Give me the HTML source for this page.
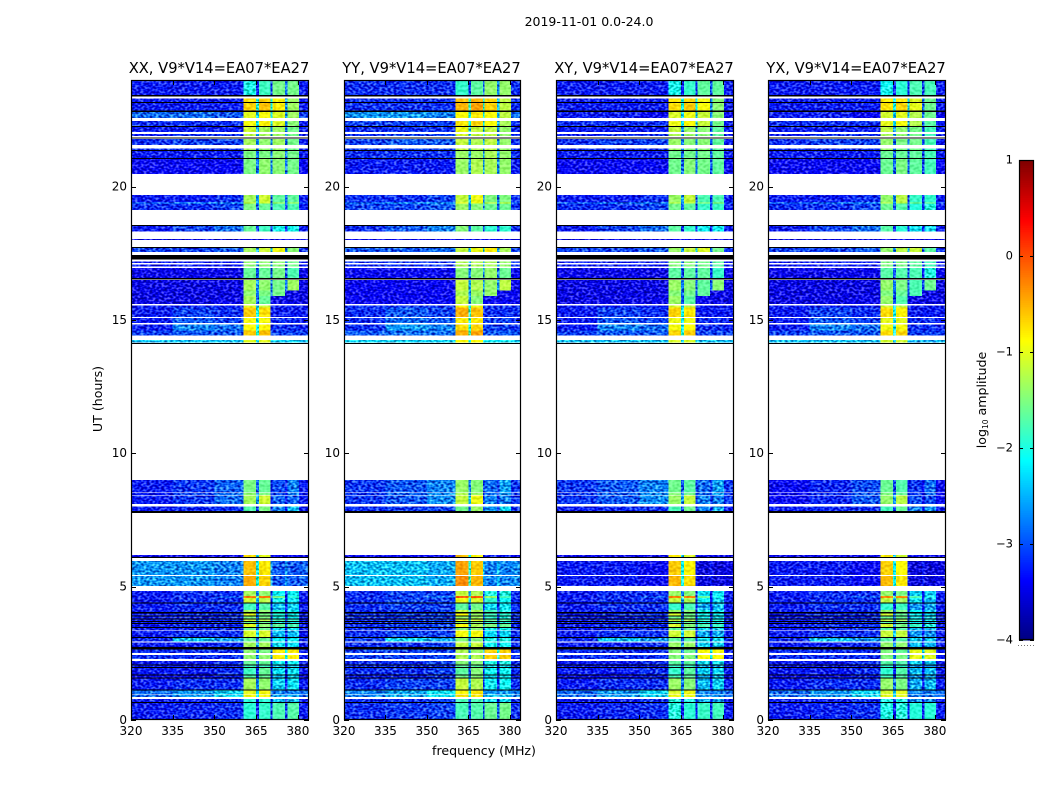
<!DOCTYPE html>
<html>
<head>
<meta charset="utf-8">
<title>2019-11-01 0.0-24.0</title>
<style>
html,body{margin:0;padding:0;background:#fff;width:1050px;height:800px;overflow:hidden}
svg{display:block}
text{font-family:"DejaVu Sans","Liberation Sans",sans-serif;fill:#000}
</style>
</head>
<body>
<svg id="chart" width="1050" height="800" viewBox="0 0 1050 800" xmlns="http://www.w3.org/2000/svg">
<defs>
<filter id="speckle" filterUnits="userSpaceOnUse" x="0" y="0" width="1050" height="800" color-interpolation-filters="sRGB">
<feTurbulence type="fractalNoise" baseFrequency="0.34 0.48" numOctaves="1" seed="7" result="n"/>
<feColorMatrix in="n" type="matrix" values="2.4 0 0 0 -0.7  2.4 0 0 0 -0.7  2.4 0 0 0 -0.7  0 0 0 0 1" result="g"/>
<feComposite in="SourceGraphic" in2="g" operator="arithmetic" k1="0" k2="1" k3="0.7" k4="-0.35" result="m"/>
<feComposite in="m" in2="SourceAlpha" operator="in"/>
</filter>
<filter id="speckle-light" filterUnits="userSpaceOnUse" x="0" y="0" width="1050" height="800" color-interpolation-filters="sRGB">
<feTurbulence type="fractalNoise" baseFrequency="0.3 0.4" numOctaves="1" seed="11" result="n"/>
<feColorMatrix in="n" type="matrix" values="2.4 0 0 0 -0.7  2.4 0 0 0 -0.7  2.4 0 0 0 -0.7  0 0 0 0 1" result="g"/>
<feComposite in="SourceGraphic" in2="g" operator="arithmetic" k1="0" k2="1" k3="0.2" k4="-0.1" result="m"/>
<feComposite in="m" in2="SourceAlpha" operator="in"/>
</filter>
</defs>
<text x="589" y="26" font-size="12.5" text-anchor="middle">2019-11-01 0.0-24.0</text>
<text x="484" y="755" font-size="12.6" text-anchor="middle">frequency (MHz)</text>
<text x="0" y="0" font-size="12.6" text-anchor="middle" transform="translate(102 399) rotate(-90)">UT (hours)</text>
<text x="0" y="0" font-size="12.6" text-anchor="middle" transform="translate(986 400) rotate(-90)">log<tspan font-size="7.5" dy="2">10</tspan><tspan dy="-2"> amplitude</tspan></text>
<g id="panels"></g>
<g id="colorbar"></g>
</svg>
<script>
// ---------- data ----------
const panelTitles = ["XX, V9*V14=EA07*EA27","YY, V9*V14=EA07*EA27","XY, V9*V14=EA07*EA27","YX, V9*V14=EA07*EA27"];
const freqTicks = [320,335,350,365,380];
const timeTicks = [0,5,10,15,20];
const colorTicks = [-4,-3,-2,-1,0,1];
// channel groups (MHz edges) and which amplitude column each one reads
const freqEdges = [320,335,350,360.4,365.0,366.0,370.2,370.8,375.4,376.2,380.4,384];
const channelColumn = [0,1,2,3,"gap",4,"gap",5,"gap",6,7];
// time segments in UT hours: [start, end]; same order as amplitudeRows
const timeSegments = [
[23.44,24.00],[23.18,23.31],[22.85,23.15],[22.58,22.80],[22.28,22.46],[22.05,22.24],[21.90,21.98],[21.57,21.79],
[21.38,21.44],[21.08,21.35],[20.48,21.04],[19.40,19.69],[19.36,19.40],[19.13,19.36],[18.31,18.54],[18.00,18.04],
[17.55,17.71],[17.13,17.20],[17.00,17.08],[16.58,16.95],[16.10,16.50],[15.90,16.10],[15.60,15.90],[15.47,15.54],
[15.11,15.47],[14.89,15.08],[14.60,14.84],[14.41,14.60],[14.15,14.25],
[8.54,9.00],[8.44,8.51],[8.10,8.41],[7.84,8.00],[6.12,6.19],[5.44,5.96],[5.03,5.40],
[4.65,4.84],[4.58,4.65],[4.40,4.58],[4.13,4.38],[4.05,4.13],[3.91,4.00],[3.81,3.89],[3.72,3.79],[3.63,3.70],
[3.48,3.60],[3.38,3.45],[3.12,3.35],[2.94,3.10],[2.73,2.90],[2.52,2.65],[2.29,2.44],[2.08,2.21],[1.99,2.05],
[1.71,1.96],[1.59,1.68],[1.15,1.56],[0.98,1.10],[0.87,0.95],[0.68,0.79],[0.00,0.65]];
// log10 amplitude: [320-335, 335-350, 350-361, band A, band B, band C, band D, 381-384]
const amplitudeRows = [
[-3.1,-3.1,-3.1,-1.9,-1.7,-1.5,-1.5,-3.1],[-3.1,-3.1,-3.1,-0.6,-0.55,-0.8,-1.3,-3.1],[-3.1,-3.1,-3.1,-0.55,-0.45,-0.75,-1.3,-3.1],
[-2.7,-2.7,-2.8,-0.9,-0.8,-1.0,-1.3,-2.9],[-3.0,-3.0,-3.0,-0.8,-0.7,-1.0,-1.4,-3.1],[-3.1,-3.1,-3.1,-1.0,-1.2,-1.3,-1.5,-3.1],
[-3.1,-3.0,-3.0,-1.1,-1.2,-1.3,-1.5,-3.1],[-3.0,-2.9,-2.9,-1.2,-1.3,-1.3,-1.5,-3.1],[-3.0,-3.0,-3.0,-1.2,-1.3,-1.3,-1.5,-3.1],
[-3.1,-3.1,-3.1,-1.4,-1.4,-1.4,-1.5,-3.1],[-3.2,-3.2,-3.2,-1.4,-1.3,-1.4,-1.5,-3.2],[-3.1,-3.1,-3.0,-1.2,-1.0,-1.6,-1.6,-3.1],
[-2.6,-2.4,-2.4,-1.0,-1.0,-1.2,-1.2,-2.8],[-3.0,-3.0,-2.9,-1.4,-1.5,-1.7,-1.7,-3.1],[-3.1,-2.9,-2.7,-1.5,-1.7,-2.0,-2.0,-3.1],
[-3.4,-3.4,-3.4,-3.2,-3.2,-3.3,-3.3,-3.4],[-2.9,-2.9,-2.8,-1.2,-1.0,-0.9,-1.4,-3.0],[-3.1,-3.1,-3.1,-1.3,-1.3,-1.4,-1.5,-3.1],
[-3.1,-3.1,-3.1,-1.3,-1.3,-1.4,-1.5,-3.1],[-3.3,-3.3,-3.3,-1.5,-1.5,-1.5,-1.7,-3.3],[-3.35,-3.35,-3.35,-1.2,-1.3,-1.5,-1.3,-3.35],
[-3.35,-3.35,-3.35,-1.3,-1.4,-1.5,-3.3,-3.35],[-3.35,-3.35,-3.3,-1.2,-1.5,-3.3,-3.3,-3.35],[-3.1,-3.1,-3.1,-0.9,-1.0,-3.1,-3.1,-3.1],
[-3.1,-2.9,-3.0,-0.5,-0.6,-3.1,-3.1,-3.1],[-3.1,-2.8,-2.9,-0.8,-0.8,-3.0,-3.0,-3.1],[-3.1,-2.6,-2.7,-0.75,-0.7,-3.0,-3.0,-3.1],
[-2.9,-2.8,-2.8,-0.5,-0.45,-2.9,-2.9,-2.9],[-2.3,-2.3,-2.3,-0.9,-0.9,-2.3,-2.3,-2.3],
[-3.1,-2.95,-2.75,-1.4,-1.5,-2.85,-2.6,-3.1],[-3.1,-2.9,-2.7,-1.3,-1.4,-2.85,-2.6,-3.1],[-3.1,-2.95,-2.7,-1.2,-1.0,-2.75,-2.75,-3.1],
[-3.1,-3.05,-3.0,-1.6,-1.4,-2.6,-2.4,-3.1],[-3.3,-3.3,-3.3,-0.6,-0.9,-3.2,-3.2,-3.3],[-2.5,-2.5,-2.6,-0.45,-0.65,-2.8,-2.8,-2.75],
[-2.5,-2.5,-2.6,-0.35,-0.55,-2.8,-2.8,-2.75],
[-3.1,-3.0,-3.0,-1.2,-1.3,-2.1,-2.1,-3.1],[-3.1,-3.0,-2.8,-0.1,-0.1,-1.5,-1.9,-3.1],[-3.1,-3.0,-3.0,-1.0,-1.1,-2.0,-2.2,-3.1],
[-3.1,-3.0,-3.0,-1.7,-1.6,-2.4,-2.3,-3.1],[-3.1,-3.1,-3.0,-1.2,-1.3,-1.9,-2.1,-3.1],[-3.1,-3.0,-3.0,-0.9,-1.4,-1.9,-2.0,-3.1],
[-3.1,-3.1,-3.0,-1.4,-1.4,-2.0,-2.1,-3.1],[-3.1,-3.0,-3.0,-1.0,-1.1,-1.7,-1.8,-3.1],[-3.1,-3.1,-3.0,-1.5,-1.5,-2.0,-2.1,-3.1],
[-3.1,-3.0,-3.0,-0.9,-1.3,-1.6,-1.7,-3.1],[-3.1,-3.1,-3.0,-1.5,-1.5,-2.2,-2.2,-3.1],[-3.1,-3.0,-3.0,-0.95,-0.95,-2.4,-2.4,-3.1],
[-3.0,-2.3,-2.5,-1.5,-1.5,-2.1,-2.1,-3.0],[-3.1,-3.1,-3.0,-1.2,-1.2,-2.2,-2.2,-3.1],[-3.0,-3.0,-3.0,-1.3,-1.4,-0.75,-0.75,-3.1],
[-3.0,-3.0,-3.0,-1.3,-1.3,-0.75,-0.75,-3.1],[-3.1,-3.1,-3.0,-1.5,-1.5,-2.1,-2.1,-3.1],[-3.1,-3.1,-3.1,-1.7,-1.7,-2.4,-2.4,-3.1],
[-3.1,-3.1,-3.0,-1.7,-1.5,-2.2,-2.2,-3.1],[-3.2,-3.2,-3.1,-1.6,-1.5,-2.4,-2.3,-3.2],[-3.1,-3.0,-3.0,-1.2,-1.3,-2.3,-2.2,-3.1],[-2.7,-2.5,-2.2,-0.9,-0.8,-2.6,-2.6,-2.7],
[-2.7,-2.5,-2.2,-0.8,-0.8,-2.5,-2.5,-2.7],[-3.1,-3.1,-3.0,-1.8,-1.8,-2.4,-2.4,-3.1],[-3.1,-3.05,-3.0,-1.8,-1.75,-1.7,-1.65,-3.1]];
// flagged intervals rendered black: [start, end] in UT hours
const flaggedSegments = [
[23.39,23.44],[23.15,23.18],[22.80,22.85],[22.24,22.28],[21.81,21.85],[21.35,21.38],[21.04,21.08],[18.54,18.56],[17.71,17.74],
[17.27,17.44],[16.51,16.58],[14.10,14.13],[7.77,7.84],[6.09,6.12],[4.38,4.40],[4.00,4.05],[3.89,3.91],[3.79,3.81],[3.70,3.72],
[3.60,3.63],[3.45,3.48],[3.10,3.12],[2.65,2.73],[2.05,2.08],[1.96,1.99],[1.68,1.71],[1.56,1.59],[1.10,1.15],[0.65,0.68]];
// per-polarisation offsets: [background, band A, band B, band C, band D]
const polXX = [-0.15,-0.12,-0.12,-0.05,-0.05];
const polYY = [-0.05,0.03,0.03,0.1,0.1];
const polXY = [-0.15,-0.17,-0.17,-0.15,-0.15];
const polYX = [-0.15,-0.2,-0.22,-0.25,-0.28];
// background episodes that differ between polarisations: [start, end, XX, YY, XY, YX]
const bgEpisodes = [[22.58,22.80,0,0.1,-0.4,-0.4],[5.03,5.96,0,0.1,-0.6,-0.6],[8.10,9.00,0,0.05,0.15,-0.1]];
const colorLimits = [-4,1];
const gapDepth = 1.3;
// amplitude below which a band channel counts as background
const bandFloor = -2.5;
// amplitude below which a band channel shows the stronger speckle
const speckleCeiling = -1.95;

// ---------- layout / scales ----------
const svgNS = "http://www.w3.org/2000/svg";
const panelLefts = [131,344,556,768];
const panelWidths = [178,177,178,178];
const plotTop = 80, plotBottom = 720;
const freqDomain = [320,384], timeDomain = [0,24];
const xScale = (f,p) => panelLefts[p] + (f-freqDomain[0])/(freqDomain[1]-freqDomain[0])*panelWidths[p];
const yScale = t => plotBottom - (t-timeDomain[0])/(timeDomain[1]-timeDomain[0])*(plotBottom-plotTop);
const cbar = {x:1019,w:15,top:160,bottom:640};
const cScale = v => cbar.bottom - (v-colorLimits[0])/(colorLimits[1]-colorLimits[0])*(cbar.bottom-cbar.top);

function clamp01(x){ return Math.max(0,Math.min(1,x)); }
function jet(v){
  const n = clamp01((v-colorLimits[0])/(colorLimits[1]-colorLimits[0]));
  const r = clamp01(1.5-Math.abs(4*n-3)), g = clamp01(1.5-Math.abs(4*n-2)), b = clamp01(1.5-Math.abs(4*n-1));
  return "rgb("+Math.round(r*255)+","+Math.round(g*255)+","+Math.round(b*255)+")";
}
function make(tag,attrs,parent){
  const el = document.createElementNS(svgNS,tag);
  for(const k in attrs) el.setAttribute(k,attrs[k]);
  parent.appendChild(el);
  return el;
}
const pols = [polXX,polYY,polXY,polYX];

function bgShift(p,t0,t1){
  let s = 0;
  for(const e of bgEpisodes){ if(t0>=e[0] && t1<=e[1]) s += e[2+p]; }
  return s;
}
function cellValue(row,col,p,t0,t1){
  const off = pols[p];
  const bg = off[0] + bgShift(p,t0,t1);
  if(col==="gap") return null;
  if(col<=2 || col===7 || row[col]<bandFloor) return row[col]+bg;
  return row[col]+off[col-2];
}

const panelsG = document.getElementById("panels");
panelTitles.forEach((title,p)=>{
  const g = make("g",{},panelsG);
  
  
  const heat = make("g",{filter:"url(#speckle)","shape-rendering":"crispEdges"},g);
  
  
  const bands = make("g",{filter:"url(#speckle-light)","shape-rendering":"crispEdges"},g);
  
  
  amplitudeRows.forEach((row,r)=>{
    const t0 = timeSegments[r][0], t1 = timeSegments[r][1];
    channelColumn.forEach((col,c)=>{
      let v = cellValue(row,col,p,t0,t1);
      let target = bands;
      if(v===null){
        const a = cellValue(row,channelColumn[c-1],p,t0,t1), b = cellValue(row,channelColumn[c+1],p,t0,t1);
        v = Math.min(a,b) - gapDepth;
        const bgv = cellValue(row,0,p,t0,t1);
        if(v<bgv) v = bgv;
        target = heat;
      } else if(col<=2 || col===7 || v<speckleCeiling){
        target = heat;
      }
      const cell = make("rect",{x:xScale(freqEdges[c],p),y:yScale(t1),width:xScale(freqEdges[c+1],p)-xScale(freqEdges[c],p),height:yScale(t0)-yScale(t1),fill:jet(v)},target);
      
      
    });
  });
  const flags = make("g",{"shape-rendering":"crispEdges"},g);
  
  
  flaggedSegments.forEach(s=>{
    const bar = make("rect",{x:panelLefts[p],y:yScale(s[1]),width:panelWidths[p],height:Math.max(1,yScale(s[0])-yScale(s[1])),fill:"#000"},flags);
    
    
  });
  const frame = make("rect",{x:panelLefts[p]+0.5,y:plotTop+0.5,width:panelWidths[p]-1,height:plotBottom-plotTop-1,fill:"none",stroke:"#000","stroke-width":1.2},g);
  
  
  const t = make("text",{x:panelLefts[p]+panelWidths[p]/2-1,y:73,"font-size":14.7,"text-anchor":"middle"},g);
  t.textContent = title;
  
  
  freqTicks.forEach(f=>{
    const x = Math.round(xScale(f,p))+0.5;
    const tk = make("path",{d:"M"+x+" "+plotBottom+"v-5M"+x+" "+plotTop+"v5",stroke:"#000","stroke-width":1},g);
    
    
    const lb = make("text",{x:xScale(f,p),y:735,"font-size":12,"text-anchor":"middle"},g);
    lb.textContent = f;
    
    
  });
  timeTicks.forEach(h=>{
    const y = Math.round(yScale(h))+0.5;
    const L = panelLefts[p], R = L+panelWidths[p];
    const tk = make("path",{d:"M"+L+" "+y+"h5M"+R+" "+y+"h-5",stroke:"#000","stroke-width":1},g);
    
    
    const lb = make("text",{x:L-4,y:yScale(h)+3.8,"font-size":12,"text-anchor":"end"},g);
    lb.textContent = h;
    
    
  });
});

// colour bar
const cb = document.getElementById("colorbar");
const ramp = make("g",{"shape-rendering":"crispEdges"},cb);


const rampSteps = 256;
for(let i=0;i<rampSteps;i++){
  const v0 = colorLimits[0]+(colorLimits[1]-colorLimits[0])*i/rampSteps;
  const v1 = colorLimits[0]+(colorLimits[1]-colorLimits[0])*(i+1)/rampSteps;
  const s = make("rect",{x:cbar.x,y:cScale(v1),width:cbar.w,height:cScale(v0)-cScale(v1)+0.5,fill:jet((v0+v1)/2)},ramp);
  
  
}
const cbFrame = make("rect",{x:cbar.x+0.5,y:cbar.top+0.5,width:cbar.w-1,height:cbar.bottom-cbar.top-1,fill:"none",stroke:"#000","stroke-width":1.2},cb);


colorTicks.forEach(v=>{
  const y = Math.round(cScale(v))+0.5;
  const tk = make("path",{d:"M"+cbar.x+" "+y+"h4M"+(cbar.x+cbar.w)+" "+y+"h-4",stroke:"#000","stroke-width":1},cb);
  
  
  const lb = make("text",{x:cbar.x-6,y:cScale(v)+3.5,"font-size":11.5,"text-anchor":"end"},cb);
  lb.textContent = v<0 ? "\u2212"+Math.abs(v) : String(v);
  
  
});
const dots = make("path",{d:"M1018 645.5H1035",stroke:"#777","stroke-width":1,"stroke-dasharray":"1 2"},cb);


</script>
</body>
</html>
